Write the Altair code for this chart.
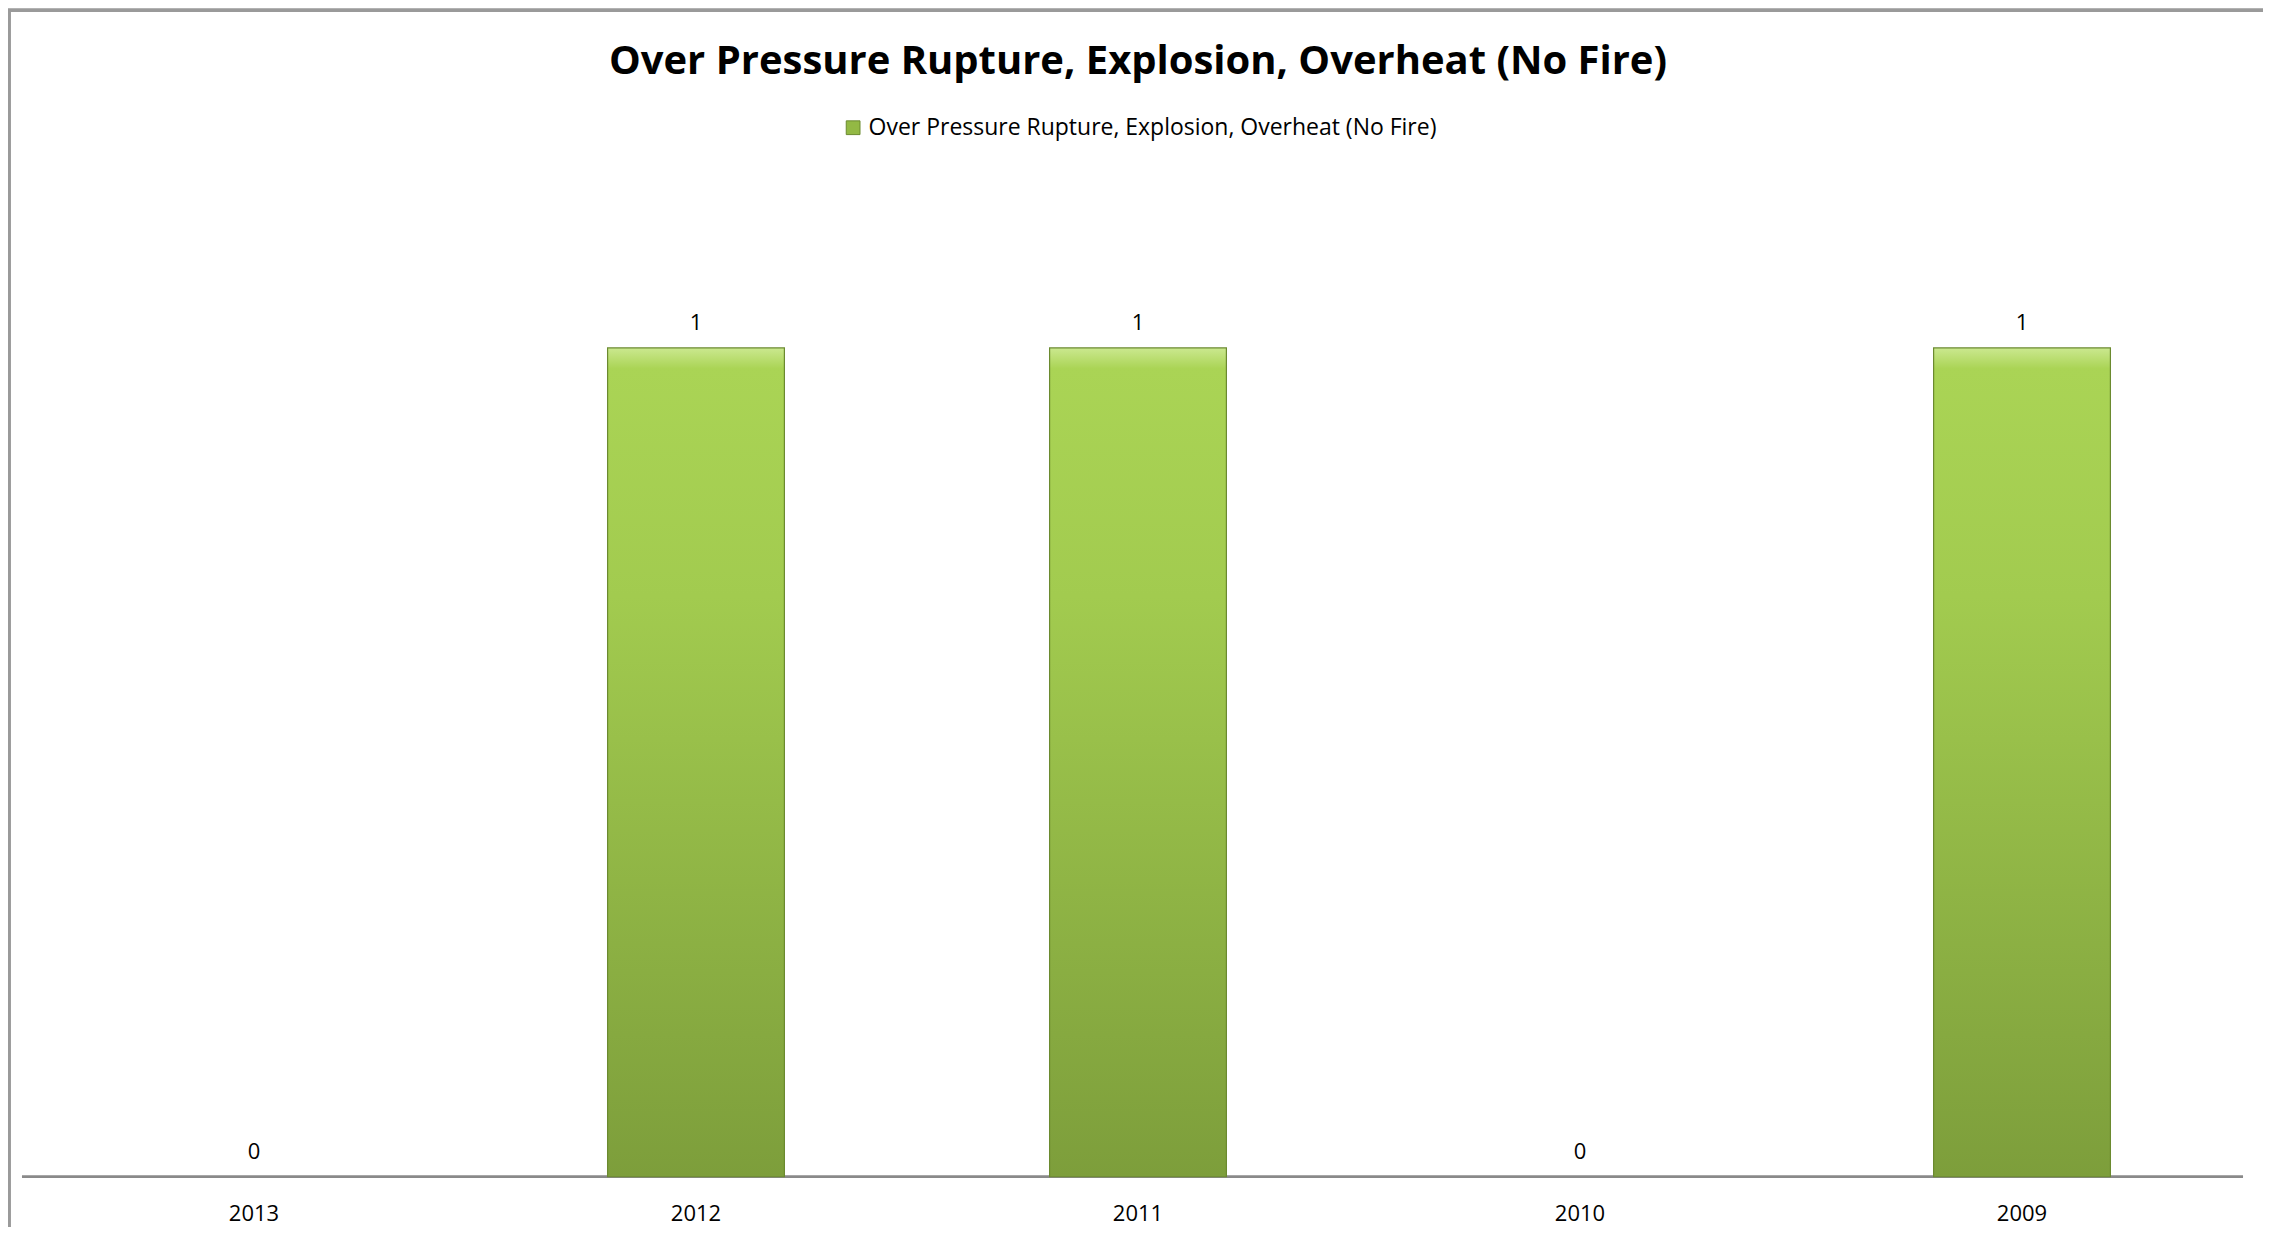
import altair as alt
import pandas as pd

years = ["2013", "2012", "2011", "2010", "2009"]
counts = [0, 1, 1, 0, 1]
series_name = "Over Pressure Rupture, Explosion, Overheat (No Fire)"

df = pd.DataFrame({"year": years, "count": counts, "series": [series_name] * len(years)})

FONT = "Open Sans"
W, H = 2211, 995

grad = alt.Gradient(
    gradient="linear", x1=0, x2=0, y1=0, y2=1,
    stops=[
        alt.GradientStop(color="#cbe88f", offset=0),
        alt.GradientStop(color="#aad455", offset=0.025),
        alt.GradientStop(color="#a2cb4f", offset=0.3),
        alt.GradientStop(color="#7d9e3b", offset=1),
    ],
)

x_enc = alt.X("year:N", sort=years, title=None,
              scale=alt.Scale(paddingInner=0.6, paddingOuter=0.3),
              axis=alt.Axis(labelAngle=0, ticks=False, domain=False,
                            labelFontSize=22, labelFont=FONT, labelColor="#000000",
                            labelPadding=27, grid=False))
y_enc = alt.Y("count:Q", title=None, scale=alt.Scale(domain=[0, 1.2], nice=False),
              axis=None)

bars = alt.Chart(df).transform_filter("datum.count > 0").mark_bar(
    fill=grad, stroke="#6b8a2f", strokeWidth=1.2
).encode(
    x=x_enc, y=y_enc,
    color=alt.Color("series:N", title=None,
                    scale=alt.Scale(domain=[series_name], range=["#93b944"]),
                    legend=alt.Legend(orient="none", legendX=809, legendY=-66,
                                      symbolType="square", symbolSize=190,
                                      symbolStrokeColor="#6b8a2f", symbolStrokeWidth=1,
                                      labelFontSize=23, labelFont=FONT, labelColor="#000000",
                                      labelLimit=1000)),
)

labels = alt.Chart(df).mark_text(dy=-25, fontSize=22, font=FONT, color="#000000",
                                 baseline="middle").encode(
    x=alt.X("year:N", sort=years), y=alt.Y("count:Q"), text="count:Q"
)

baseline_rule = alt.Chart(df).mark_rule(color="#8a8a8a", strokeWidth=2).encode(
    x=alt.value(-11), x2=alt.value(W), y=alt.value(H)
)
frame_top = alt.Chart(df).mark_rule(color="#9a9a9a", strokeWidth=3).encode(
    x=alt.value(-25), x2=alt.value(W + 40), y=alt.value(-172)
)
frame_left = alt.Chart(df).mark_rule(color="#9a9a9a", strokeWidth=3).encode(
    x=alt.value(-24), y=alt.value(-172), y2=alt.value(H + 70)
)

chart = alt.layer(frame_top, frame_left, baseline_rule, bars, labels).properties(
    width=W, height=H,
    padding={"left": 25, "top": 174, "right": 20, "bottom": 50},
    autosize=alt.AutoSizeParams(type="none"),
    title=alt.TitleParams(series_name, fontSize=40, font=FONT, fontWeight="bold",
                          color="#000000", anchor="middle", offset=-73),
).configure(background="white", view=alt.ViewConfig(stroke="transparent", strokeWidth=0))

chart.save("out.html", embed_options={"renderer": "svg", "actions": False})
